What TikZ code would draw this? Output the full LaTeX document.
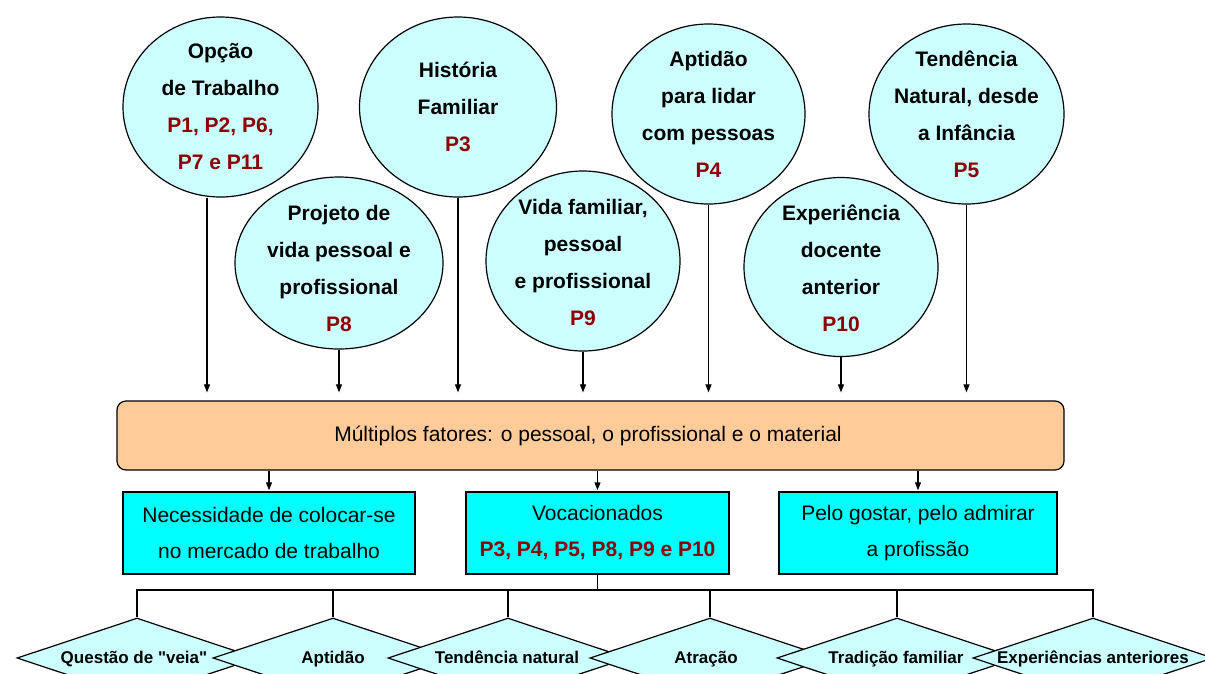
\documentclass[tikz,border=0pt]{standalone}
\usepackage{fontspec}
\setmainfont{Liberation Sans}
\newfontfamily\plainquote{Liberation Sans}[Ligatures=TeXOff]
\usetikzlibrary{shapes.geometric,arrows.meta}
\definecolor{cfill}{HTML}{CCFFFF}
\definecolor{boxcyan}{HTML}{00FFFF}
\definecolor{orangefill}{HTML}{FFCC99}
\definecolor{pred}{RGB}{140,0,0}
\newcommand\pnum[1]{\textcolor{pred}{#1}}
\begin{document}
\begin{tikzpicture}[x=1pt,y=-1pt,
  circ/.style={ellipse,draw=black,line width=1.2pt,fill=cfill,inner sep=0pt},
  ctext/.style={align=center,font=\fontsize{21}{37}\selectfont\bfseries,inner sep=0pt},
  multibox/.style={rectangle,rounded corners=9pt,draw=black,line width=1.2pt,fill=orangefill,
    minimum width=947pt,minimum height=69pt,inner sep=0pt,font=\fontsize{21}{25}\selectfont},
  cbox/.style={rectangle,draw=black,line width=1.4pt,fill=boxcyan,minimum height=82pt,
    inner sep=0pt,align=center,font=\fontsize{21}{36}\selectfont},
  dia/.style={diamond,draw=black,line width=1.2pt,fill=cfill,minimum width=240pt,
    minimum height=80pt,inner sep=0pt},
  dtext/.style={font=\fontsize{17}{20}\selectfont\bfseries,inner sep=0pt,anchor=base},
  arr/.style={line width=1.1pt,-{Triangle[length=8pt,width=6pt]}},
  conn/.style={line width=1.1pt}
]
\useasboundingbox (0,0) rectangle (1205,673);
\clip (0,0) rectangle (1205,673);

% top row circles
\node[circ,minimum width=195pt,minimum height=180pt] (c1) at (220.5,107) {};
\node[ctext] at (c1) {Opção\\de Trabalho\\\pnum{P1, P2, P6,}\\\pnum{P7 e P11}};
\node[circ,minimum width=197pt,minimum height=180pt] (c2) at (458,107) {};
\node[ctext] at (c2) {História\\Familiar\\\pnum{P3}};
\node[circ,minimum width=193pt,minimum height=180pt] (c5) at (708.5,114) {};
\node[ctext] at (c5) {Aptidão\\para lidar\\com pessoas\\\pnum{P4}};
\node[circ,minimum width=195pt,minimum height=180pt] (c7) at (966.5,114) {};
\node[ctext] at (c7) {Tendência\\Natural, desde\\a Infância\\\pnum{P5}};

% lower row circles
\node[circ,minimum width=208pt,minimum height=172pt] (c3) at (339,263) {};
\node[ctext] at (339,268) {Projeto de\\vida pessoal e\\profissional\\\pnum{P8}};
\node[circ,minimum width=194pt,minimum height=180pt] (c4) at (583,261) {};
\node[ctext] at (583,262) {Vida familiar,\\pessoal\\e profissional\\\pnum{P9}};
\node[circ,minimum width=194pt,minimum height=179pt] (c6) at (841,267) {};
\node[ctext] at (841,268) {Experiência\\docente\\anterior\\\pnum{P10}};

% central box
\node[multibox] (multi) at (590.5,435.5) {};
\node[font=\fontsize{21}{25}\selectfont,inner sep=0pt] at (588,435.5) {Múltiplos fatores: o pessoal, o profissional e o material};

% arrows from circles to central box
\draw[arr,shorten >=8pt] ([xshift=-13.5pt]c1.south) -- ([xshift=-13.5pt]c1.south |- multi.north);
\foreach \c in {c2,c3,c4,c5,c6,c7}
  \draw[arr,shorten >=8pt] (\c.south) -- (\c.south |- multi.north);

% cyan boxes
\node[cbox,minimum width=292pt] (A) at (269,533) {Necessidade de colocar-se\\no mercado de trabalho};
\node[cbox,minimum width=263pt] (B) at (597.5,533) {Vocacionados\\\textbf{\pnum{P3, P4, P5, P8, P9 e P10}}};
\node[cbox,minimum width=278pt] (C) at (918,533) {Pelo gostar, pelo admirar\\a profissão};

\foreach \b in {A,B,C}
  \draw[arr,shorten >=1pt] (multi.south -| \b.north) -- (\b.north);

% diamonds
\node[dia] (d1) at (137,658) {};
\node[dia] (d2) at (333,658) {};
\node[dia] (d3) at (508,658) {};
\node[dia] (d4) at (710,658) {};
\node[dia] (d5) at (897,658) {};
\node[dia] (d6) at (1093,658) {};
\node[dtext] at (134,663) {Questão de {\plainquote\bfseries "}veia{\plainquote\bfseries "}};
\node[dtext] at (333,663) {Aptidão};
\node[dtext] at (507,663) {Tendência natural};
\node[dtext] at (706,663) {Atração};
\node[dtext] at (896,663) {Tradição familiar};
\node[dtext] at (1093,663) {Experiências anteriores};

% tree connector
\coordinate (hl) at (0,590);
\draw[conn] (B.south) -- (B.south |- hl);
\draw[conn] (d1.north) -- (d1.north |- hl) -- (d6.north |- hl) -- (d6.north);
\foreach \d in {d2,d3,d4,d5}
  \draw[conn] (\d.north |- hl) -- (\d.north);
\end{tikzpicture}
\end{document}
